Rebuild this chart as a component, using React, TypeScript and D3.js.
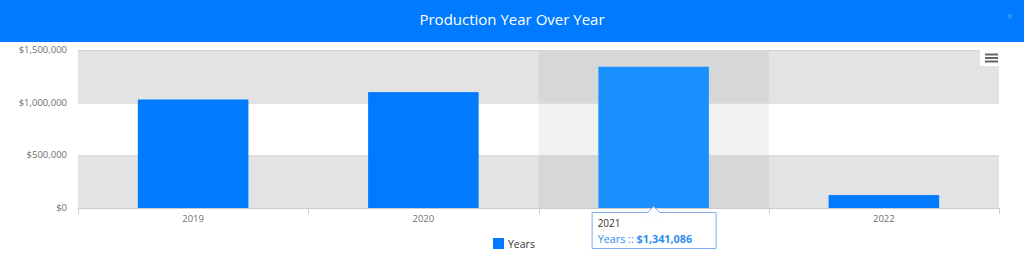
import React from "react";
import * as d3 from "d3";

const categories = ["2019", "2020", "2021", "2022"];
const values = [1030000, 1100000, 1341086, 123000];
const yTicks = [0, 500000, 1000000, 1500000];
const seriesName = "Years";
const title = "Production Year Over Year";
const hoverIndex = 2;

const W = 1024;
const H = 268;
const FONT = "'Open Sans', 'Noto Sans', sans-serif";

export default function App() {
  const left = 78, right = 999, top = 50, bottom = 208;
  const x = d3.scaleBand<string>().domain(categories).range([left, right]).paddingInner(0).paddingOuter(0);
  const y = d3.scaleLinear().domain([0, 1500000]).range([bottom, top]);
  const fmt = (v: number) => "$" + d3.format(",")(v);
  const bw = x.bandwidth();
  const barW = bw * 0.48;

  const hx = x(categories[hoverIndex])! + bw / 2;
  const tipW = 125, tipH = 37;
  const tipX = hx - 62;
  const tipY = 212;

  return (
    <svg width={W} height={H} style={{ position: "absolute", left: 0, top: 0, display: "block" }} fontFamily={FONT}>
      <rect x={0} y={0} width={W} height={H} fill="#ffffff" />
      {/* header */}
      <rect x={0} y={0} width={W} height={42} fill="#007bff" />
      <text x={W / 2} y={25} textAnchor="middle" fill="#ffffff" fontSize={15}>{title}</text>
      <text x={1010} y={20} textAnchor="middle" fill="#5aa3f5" fontSize={11}>×</text>

      {/* alternate bands */}
      {yTicks.slice(0, -1).map((t, i) =>
        i % 2 === 0 ? (
          <rect key={"b" + i} x={left} y={y(yTicks[i + 1])} width={right - left} height={y(t) - y(yTicks[i + 1])} fill="#e2e3e5" />
        ) : null
      )}
      {/* hover highlight */}
      <rect x={x(categories[hoverIndex])!} y={top} width={bw} height={bottom - top} fill="rgba(60,60,60,0.07)" />

      {/* grid lines */}
      {yTicks.map((t) => (
        <line key={"g" + t} x1={left} x2={right} y1={y(t) + 0.5} y2={y(t) + 0.5} stroke="#d3d3d3" strokeWidth={1} />
      ))}
      {/* y labels */}
      {yTicks.map((t) => (
        <text key={"yl" + t} x={67} y={y(t) + 3} textAnchor="end" fill="#707070" fontSize={9.5}>{fmt(t)}</text>
      ))}

      {/* bars */}
      {categories.map((c, i) => (
        <rect
          key={c}
          x={x(c)! + (bw - barW) / 2}
          y={y(values[i])}
          width={barW}
          height={bottom - y(values[i])}
          fill={i === hoverIndex ? "#1a90ff" : "#007bff"}
        />
      ))}

      {/* x axis */}
      <line x1={left} x2={right} y1={bottom + 0.5} y2={bottom + 0.5} stroke="#cccccc" />
      {[...categories.map((c) => x(c)!), right].map((p, i) => (
        <line key={"t" + i} x1={Math.round(p) + 0.5} x2={Math.round(p) + 0.5} y1={bottom} y2={bottom + 6} stroke="#cccccc" />
      ))}
      {categories.map((c) => (
        <text key={"xl" + c} x={x(c)! + bw / 2} y={222} textAnchor="middle" fill="#707070" fontSize={9.5}>{c}</text>
      ))}

      {/* menu icon */}
      <rect x={980} y={49} width={22} height={17} fill="#ffffff" />
      {[0, 1, 2].map((k) => (
        <rect key={"m" + k} x={985} y={53.5 + k * 3.5} width={13} height={2} fill="#666666" />
      ))}

      {/* legend */}
      <rect x={493} y={238} width={11} height={11} fill="#007bff" />
      <text x={508} y={247.5} fill="#333333" fontSize={10.5}>{seriesName}</text>

      {/* tooltip */}
      <g>
        <path
          d={`M${tipX + 0.5},${tipY + 0.5} H${hx - 6} L${hx},${tipY - 5.5} L${hx + 6},${tipY + 0.5} H${tipX + tipW - 0.5} V${tipY + tipH - 0.5} H${tipX + 0.5} Z`}
          fill="rgba(255,255,255,0.96)"
          stroke="#7aaef0"
          strokeWidth={1}
        />
        <text x={tipX + 6} y={tipY + 15} fill="#333333" fontSize={10}>{categories[hoverIndex]}</text>
        <text x={tipX + 6} y={tipY + 30.5} fill="#2d8ef0" fontSize={10.8}>
          <tspan>{seriesName} :: </tspan>
          <tspan fontWeight="bold">{fmt(values[hoverIndex])}</tspan>
        </text>
      </g>
    </svg>
  );
}
